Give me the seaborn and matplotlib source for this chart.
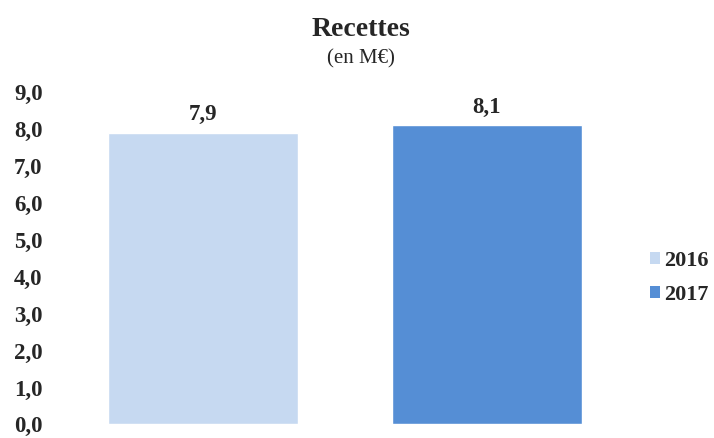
import matplotlib
matplotlib.use("Agg")
import matplotlib.pyplot as plt
import seaborn as sns
from matplotlib.patches import Patch
from matplotlib.ticker import FuncFormatter

years = ["2016", "2017"]
values = [7.9, 8.1]
labels = ["7,9", "8,1"]
colors = ["#C6D9F1", "#558ED5"]

sns.set_style("white")
plt.rcParams['font.family'] = ['Liberation Serif', 'DejaVu Serif']

fig = plt.figure(figsize=(7.14, 4.38), dpi=100)
ax = fig.add_axes([0.085, 0.031, 0.796, 0.759])
sns.barplot(x=years, y=values, hue=years, palette=colors, width=0.67,
            legend=False, ax=ax, saturation=1)
ax.set_ylim(0, 9)
ax.set_xlim(-0.5, 1.5)
ax.set_yticks(range(0, 10))
ax.yaxis.set_major_formatter(FuncFormatter(lambda v, p: f"{v:.1f}".replace(".", ",")))
ax.set_xticks([])
ax.set_xlabel("")
ax.set_ylabel("")
for lbl in ax.get_yticklabels():
    lbl.set_fontweight("bold")
    lbl.set_fontsize(16.5)
ax.tick_params(axis="y", length=0, pad=13)
for s in ax.spines.values():
    s.set_visible(False)
for i, (v, t) in enumerate(zip(values, labels)):
    ax.text(i, v + 0.2, t, ha="center", va="bottom", fontsize=16.5, fontweight="bold")

fig.text(0.506, 0.932, "Recettes", ha="center", va="center", fontsize=20, fontweight="bold")
fig.text(0.505, 0.866, "(en M€)", ha="center", va="center", fontsize=15)

handles = [Patch(facecolor=c, edgecolor="none") for c in colors]
leg = fig.legend(handles, years, loc="center left", bbox_to_anchor=(0.911, 0.365),
                 frameon=False, prop={"weight": "bold", "size": 16},
                 borderpad=0, borderaxespad=0,
                 handlelength=0.45, handleheight=0.45, handletextpad=0.15, labelspacing=0.65)

fig.savefig("out.png", dpi=100)
